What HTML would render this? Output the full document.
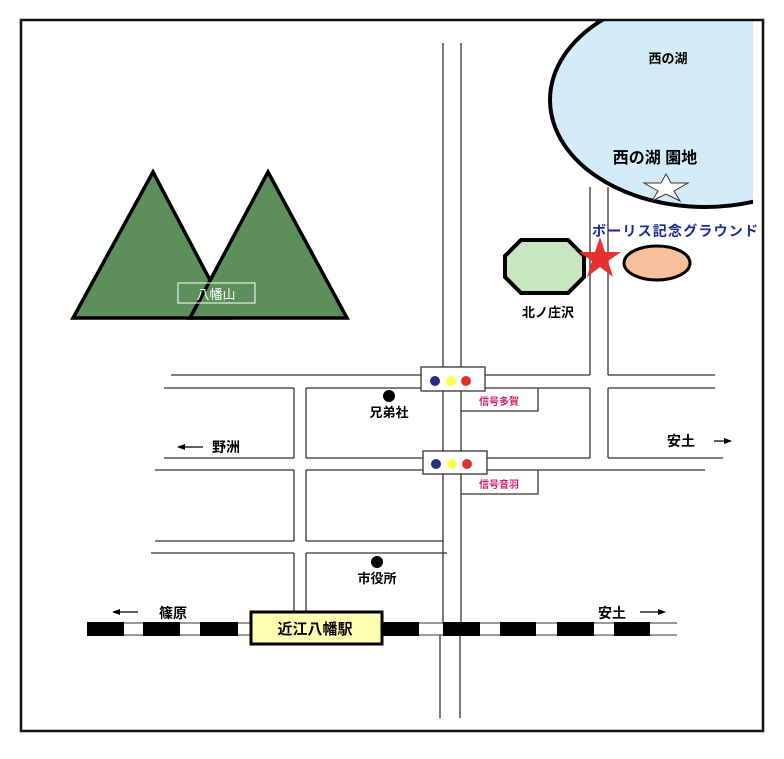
<!DOCTYPE html>
<html><head><meta charset="utf-8"><style>
html,body{margin:0;padding:0;background:#fff}
svg{display:block}
text{font-family:"Liberation Sans","Noto Sans CJK JP",sans-serif}
</style></head><body>
<svg width="784" height="759" viewBox="0 0 784 759" xmlns="http://www.w3.org/2000/svg">
<rect width="784" height="759" fill="#fff"/>
<defs><clipPath id="c"><rect x="22" y="21" width="731" height="710"/></clipPath>
<marker id="ah" markerWidth="8" markerHeight="8" refX="7" refY="4" orient="auto" markerUnits="userSpaceOnUse"><path d="M0,1 L8,4 L0,7 z" fill="#000"/></marker></defs>
<g clip-path="url(#c)">
<ellipse cx="705" cy="100" rx="155" ry="107" fill="#d4ecf8" stroke="#000" stroke-width="4"/>
</g>
<rect x="21" y="20" width="742" height="711" fill="none" stroke="#111" stroke-width="2.5"/>
<text x="668" y="63" font-size="13" font-weight="bold" text-anchor="middle">西の湖</text>
<text x="655" y="163" font-size="16" font-weight="bold" text-anchor="middle">西の湖 園地</text>
<polygon points="666,174 671,183 688,183 674,191 680,201 666,194 652,201 658,191 644,183 661,183" fill="#fff" stroke="#333" stroke-width="1"/>

<polygon points="153,172 73,318 230,318" fill="#5c8f5c" stroke="#000" stroke-width="3.5"/>
<polygon points="268,172 190,318 347,318" fill="#5c8f5c" stroke="#000" stroke-width="3.5"/>
<rect x="178" y="283" width="77" height="20" fill="none" stroke="#fff" stroke-width="1"/>
<text x="216" y="299" font-size="13" fill="#fff" text-anchor="middle">八幡山</text>

<g stroke="#333" stroke-width="1.3" fill="none">
<line x1="443" y1="43" x2="443" y2="367"/><line x1="461" y1="43" x2="461" y2="367"/>
<line x1="443" y1="391" x2="443" y2="451"/><line x1="461" y1="388" x2="461" y2="451"/>
<line x1="443" y1="474" x2="443" y2="623"/><line x1="461" y1="474" x2="461" y2="623"/>
<line x1="440" y1="635" x2="440" y2="718"/><line x1="460" y1="635" x2="460" y2="718"/>
<line x1="590" y1="187" x2="590" y2="375"/><line x1="608" y1="187" x2="608" y2="375"/>
<line x1="590" y1="388" x2="590" y2="458"/><line x1="608" y1="388" x2="608" y2="458"/>
<line x1="171" y1="375" x2="421" y2="375"/><line x1="485" y1="375" x2="590" y2="375"/><line x1="608" y1="375" x2="715" y2="375"/>
<line x1="164" y1="388" x2="294" y2="388"/><line x1="306" y1="388" x2="421" y2="388"/><line x1="485" y1="388" x2="590" y2="388"/><line x1="608" y1="388" x2="715" y2="388"/>
<line x1="164" y1="458" x2="294" y2="458"/><line x1="306" y1="458" x2="423" y2="458"/><line x1="487" y1="458" x2="590" y2="458"/><line x1="608" y1="458" x2="723" y2="458"/>
<line x1="155" y1="470" x2="294" y2="470"/><line x1="306" y1="470" x2="423" y2="470"/><line x1="487" y1="470" x2="705" y2="470"/>
<line x1="155" y1="541" x2="294" y2="541"/><line x1="306" y1="541" x2="443" y2="541"/>
<line x1="151" y1="553" x2="294" y2="553"/><line x1="306" y1="553" x2="447" y2="553"/>
<line x1="294" y1="388" x2="294" y2="458"/><line x1="306" y1="388" x2="306" y2="458"/>
<line x1="294" y1="470" x2="294" y2="541"/><line x1="306" y1="470" x2="306" y2="541"/>
<line x1="294" y1="553" x2="294" y2="623"/><line x1="306" y1="553" x2="306" y2="623"/>
<polyline points="461,411 538,411 538,388"/>
<polyline points="461,494 538,494 538,470"/>
</g>
<text x="499" y="405" font-size="10" fill="#d0206a" text-anchor="middle" font-weight="bold">信号多賀</text>
<text x="499" y="488" font-size="10" fill="#d0206a" text-anchor="middle" font-weight="bold">信号音羽</text>

<rect x="421" y="367" width="64" height="24" fill="#fff" stroke="#333" stroke-width="1.3"/>
<circle cx="435" cy="381" r="5" fill="#2a2a80"/><circle cx="451" cy="381" r="5" fill="#ffff50"/><circle cx="466" cy="381" r="5" fill="#e03030"/>
<rect x="423" y="451" width="64" height="23" fill="#fff" stroke="#333" stroke-width="1.3"/>
<circle cx="436" cy="464" r="5" fill="#2a2a80"/><circle cx="452" cy="464" r="5" fill="#ffff50"/><circle cx="467" cy="464" r="5" fill="#e03030"/>

<circle cx="389" cy="396" r="6" fill="#000"/>
<text x="389" y="417" font-size="13" text-anchor="middle" font-weight="bold">兄弟社</text>
<circle cx="377" cy="562" r="6" fill="#000"/>
<text x="377" y="583" font-size="13" text-anchor="middle" font-weight="bold">市役所</text>

<g stroke="#000" stroke-width="1.3">
<line x1="203" y1="447" x2="178" y2="447" marker-end="url(#ah)"/>
<line x1="714" y1="441" x2="731" y2="441" marker-end="url(#ah)"/>
<line x1="138" y1="612" x2="113" y2="612" marker-end="url(#ah)"/>
<line x1="640" y1="612" x2="665" y2="612" marker-end="url(#ah)"/>
</g>
<text x="212" y="452" font-size="14" font-weight="bold">野洲</text>
<text x="667" y="446" font-size="14" font-weight="bold">安土</text>
<text x="159" y="618" font-size="14" font-weight="bold">篠原</text>
<text x="598" y="618" font-size="14" font-weight="bold">安土</text>

<line x1="87" y1="623" x2="677" y2="623" stroke="#333" stroke-width="1"/>
<line x1="87" y1="635" x2="677" y2="635" stroke="#333" stroke-width="1"/>
<g fill="#000">
<rect x="87" y="622" width="37" height="14"/><rect x="143" y="622" width="37" height="14"/><rect x="200" y="622" width="38" height="14"/>
<rect x="383" y="622" width="36" height="14"/><rect x="443" y="622" width="37" height="14"/><rect x="500" y="622" width="36" height="14"/>
<rect x="557" y="622" width="37" height="14"/><rect x="614" y="622" width="36" height="14"/>
</g>
<rect x="251" y="612" width="131" height="32" fill="#ffffb0" stroke="#000" stroke-width="3"/>
<text x="315" y="634" font-size="15" font-weight="bold" text-anchor="middle">近江八幡駅</text>

<polygon points="521,240 568,240 584,256 584,277 568,293 521,293 505,277 505,256" fill="#c8e6c0" stroke="#000" stroke-width="4"/>
<text x="548" y="317" font-size="13" text-anchor="middle" font-weight="bold">北ノ庄沢</text>
<ellipse cx="657" cy="263" rx="33" ry="17" fill="#f7c09a" stroke="#000" stroke-width="3"/>
<polygon points="600,237 605,252 621,252 608,261 613,277 600,267 587,277 592,261 579,252 595,252" fill="#e83030"/>
<text x="592" y="236" font-size="14" fill="#1a2a9a" font-weight="bold" textLength="166">ボーリス記念グラウンド</text>
</svg>
</body></html>
